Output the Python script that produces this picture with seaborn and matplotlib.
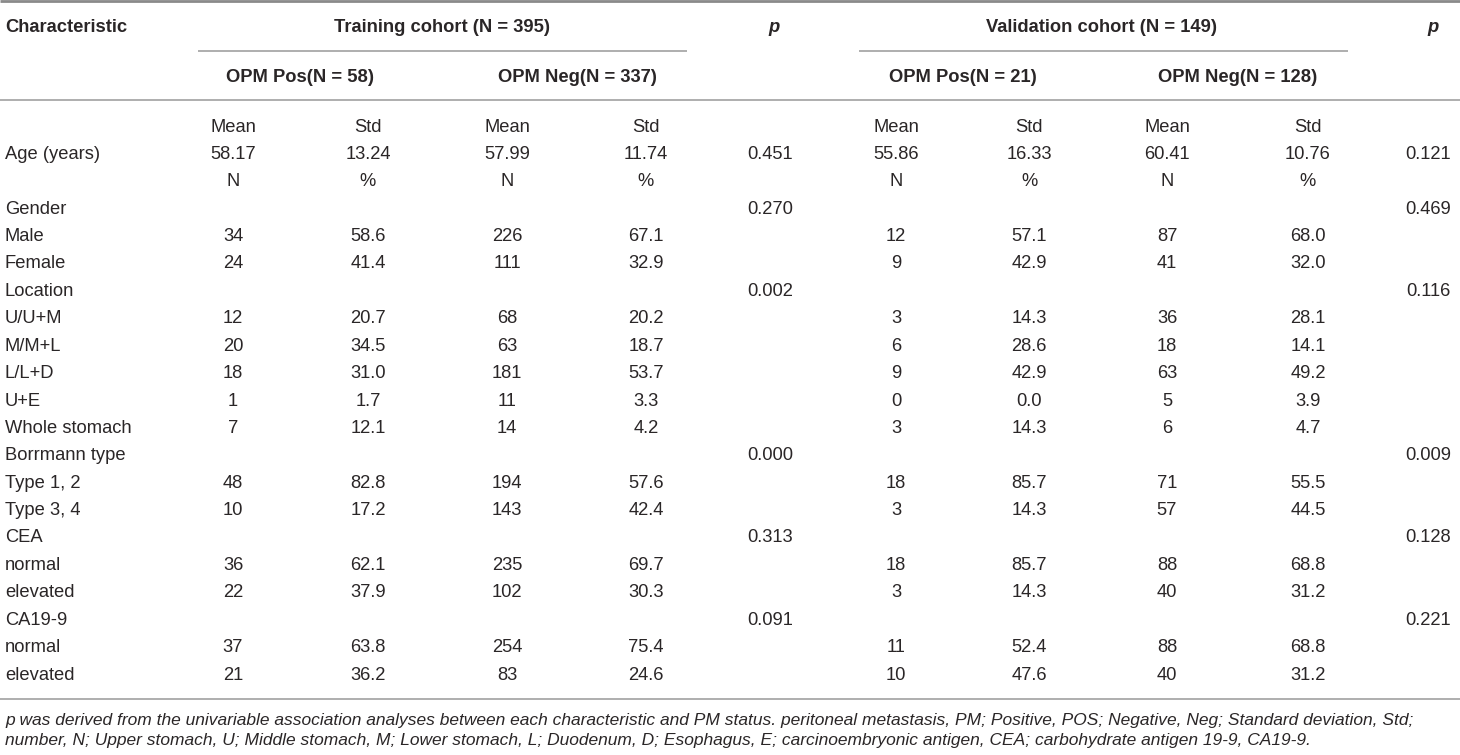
import matplotlib
matplotlib.use("Agg")
import matplotlib.pyplot as plt
import seaborn as sns
import pandas as pd

# Table content (strings as printed in the table)
labels = ["", "Age (years)", "", "Gender", "Male", "Female", "Location", "U/U+M", "M/M+L",
          "L/L+D", "U+E", "Whole stomach", "Borrmann type", "Type 1, 2", "Type 3, 4",
          "CEA", "normal", "elevated", "CA19-9", "normal", "elevated"]
train_pos_n = ["Mean", "58.17", "N", "", "34", "24", "", "12", "20", "18", "1", "7", "",
               "48", "10", "", "36", "22", "", "37", "21"]
train_pos_pct = ["Std", "13.24", "%", "", "58.6", "41.4", "", "20.7", "34.5", "31.0", "1.7", "12.1", "",
                 "82.8", "17.2", "", "62.1", "37.9", "", "63.8", "36.2"]
train_neg_n = ["Mean", "57.99", "N", "", "226", "111", "", "68", "63", "181", "11", "14", "",
               "194", "143", "", "235", "102", "", "254", "83"]
train_neg_pct = ["Std", "11.74", "%", "", "67.1", "32.9", "", "20.2", "18.7", "53.7", "3.3", "4.2", "",
                 "57.6", "42.4", "", "69.7", "30.3", "", "75.4", "24.6"]
p_train = ["", "0.451", "", "0.270", "", "", "0.002", "", "", "", "", "", "0.000", "", "",
           "0.313", "", "", "0.091", "", ""]
val_pos_n = ["Mean", "55.86", "N", "", "12", "9", "", "3", "6", "9", "0", "3", "",
             "18", "3", "", "18", "3", "", "11", "10"]
val_pos_pct = ["Std", "16.33", "%", "", "57.1", "42.9", "", "14.3", "28.6", "42.9", "0.0", "14.3", "",
               "85.7", "14.3", "", "85.7", "14.3", "", "52.4", "47.6"]
val_neg_n = ["Mean", "60.41", "N", "", "87", "41", "", "36", "18", "63", "5", "6", "",
             "71", "57", "", "88", "40", "", "88", "40"]
val_neg_pct = ["Std", "10.76", "%", "", "68.0", "32.0", "", "28.1", "14.1", "49.2", "3.9", "4.7", "",
               "55.5", "44.5", "", "68.8", "31.2", "", "68.8", "31.2"]
p_val = ["", "0.121", "", "0.469", "", "", "0.116", "", "", "", "", "", "0.009", "", "",
         "0.128", "", "", "0.221", "", ""]

group_headers = ["Training cohort (N = 395)", "Validation cohort (N = 149)"]
sub_headers = ["OPM Pos(N = 58)", "OPM Neg(N = 337)", "OPM Pos(N = 21)", "OPM Neg(N = 128)"]
footnote = [
    "p was derived from the univariable association analyses between each characteristic and PM status. "
    "peritoneal metastasis, PM; Positive, POS; Negative, Neg; Standard deviation, Std;",
    "number, N; Upper stomach, U; Middle stomach, M; Lower stomach, L; Duodenum, D; Esophagus, E; "
    "carcinoembryonic antigen, CEA; carbohydrate antigen 19-9, CA19-9.",
]

df = pd.DataFrame({
    "label": labels,
    "tp_n": train_pos_n, "tp_pct": train_pos_pct,
    "tn_n": train_neg_n, "tn_pct": train_neg_pct,
    "p_train": p_train,
    "vp_n": val_pos_n, "vp_pct": val_pos_pct,
    "vn_n": val_neg_n, "vn_pct": val_neg_pct,
    "p_val": p_val,
})

sns.set_theme(style="white")
plt.rcParams["font.family"] = ["Liberation Sans", "DejaVu Sans"]

W, H = 1460, 755
fig = plt.figure(figsize=(W / 100, H / 100), dpi=100)
ax = fig.add_axes([0, 0, 1, 1])
ax.set_xlim(0, W)
ax.set_ylim(H, 0)
ax.axis("off")

txt = "#2a2627"
fs = 13.2

# column centres in pixels
col_x = {"tp_n": 233, "tp_pct": 368, "tn_n": 507, "tn_pct": 646, "p_train": 770,
         "vp_n": 896, "vp_pct": 1029, "vn_n": 1167, "vn_pct": 1308, "p_val": 1428}

# header
ax.text(5, 27, "Characteristic", fontsize=fs, fontweight="bold", color=txt, va="center", ha="left")
ax.text(442, 27, group_headers[0], fontsize=fs, fontweight="bold", color=txt, va="center", ha="center")
ax.text(1102, 27, group_headers[1], fontsize=fs, fontweight="bold", color=txt, va="center", ha="center")
for x in (774, 1433):
    ax.text(x, 27, "p", fontsize=fs, fontweight="bold", fontstyle="italic", color=txt,
            va="center", ha="center")
for x, s in zip((300, 577, 963, 1238), sub_headers):
    ax.text(x, 77, s, fontsize=fs, fontweight="bold", color=txt, va="center", ha="center")

# rules
ax.hlines(1, 0, W, color="#8a8a8a", lw=2.0)
ax.hlines(51, 198, 687, color="#a8a8a8", lw=1.3)
ax.hlines(51, 859, 1348, color="#a8a8a8", lw=1.3)
ax.hlines(100, 0, W, color="#a8a8a8", lw=1.3)
ax.hlines(699, 0, W, color="#a8a8a8", lw=1.3)

# body
y0, dy = 127, 27.4
for i, row in df.iterrows():
    y = y0 + i * dy
    ax.text(5, y, row["label"], fontsize=fs, color=txt, va="center", ha="left")
    for col, x in col_x.items():
        ax.text(x, y, row[col], fontsize=fs, color=txt, va="center", ha="center")

# footnote
ax.text(5, 720, footnote[0], fontsize=12.5, fontstyle="italic", color=txt, va="center", ha="left")
ax.text(5, 741, footnote[1], fontsize=12.5, fontstyle="italic", color=txt, va="center", ha="left")

fig.savefig("out.png", dpi=100)
